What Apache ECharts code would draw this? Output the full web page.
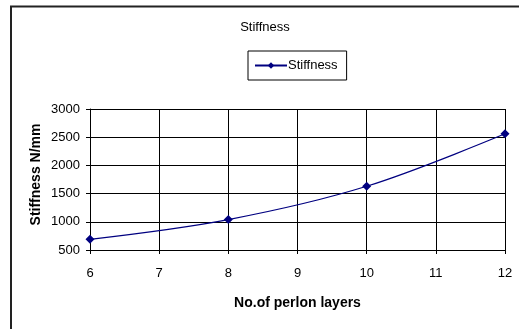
<!DOCTYPE html>
<html><head><meta charset="utf-8">
<script src="https://cdn.jsdelivr.net/npm/echarts@6/dist/echarts.min.js"></script>
<style>html,body{margin:0;padding:0;background:#fff}#c{width:519px;height:329px}</style>
</head><body><div id="c"></div>
<script>
const layers = [6, 8, 10, 12];
const stiffness = [690, 1040, 1630, 2560];
const xTicks = [6, 7, 8, 9, 10, 11, 12];
const yTicks = [500, 1000, 1500, 2000, 2500, 3000];
const seriesName = 'Stiffness';
const titleText = 'Stiffness';
const xTitle = 'No.of perlon layers';
const yTitle = 'Stiffness N/mm';

const chart = echarts.init(document.getElementById('c'), null, {renderer: 'canvas'});
const font = 'Liberation Sans, Arial, sans-serif';
chart.setOption({
  animation: false,
  backgroundColor: '#fff',
  graphic: [{
    type: 'rect', shape: {x: 11, y: 6.5, width: 540, height: 360},
    style: {fill: 'none', stroke: '#222', lineWidth: 2}, z: -1
  }, {
    type: 'text', x: 36, y: 174.5, rotation: Math.PI / 2,
    style: {text: yTitle, fontFamily: font, fontSize: 14, fontWeight: 'bold', fill: '#000',
      align: 'center', verticalAlign: 'middle'}
  }],
  title: {
    text: titleText, left: 265, top: 21, textAlign: 'center', padding: 0,
    textStyle: {fontFamily: font, fontSize: 13, fontWeight: 'normal', color: '#000'}
  },
  legend: {
    data: [seriesName], left: 248, top: 51, padding: [8, 9, 8, 6],
    borderColor: '#000', borderWidth: 1, itemWidth: 32, itemHeight: 8, itemGap: 4,
    textStyle: {fontFamily: font, fontSize: 13, color: '#000', padding: [0, 0, 0, -4]}
  },
  grid: {left: 90, right: 14, top: 109, bottom: 79, containLabel: false},
  xAxis: {
    type: 'value', min: xTicks[0], max: xTicks[xTicks.length - 1], interval: 1,
    name: xTitle, nameLocation: 'middle', nameGap: 46,
    nameTextStyle: {fontFamily: font, fontSize: 14, fontWeight: 'bold', color: '#000'},
    axisLine: {lineStyle: {color: '#000', width: 1}},
    axisTick: {show: true, length: 4, lineStyle: {color: '#000'}},
    axisLabel: {fontFamily: font, fontSize: 13, color: '#000', margin: 17},
    splitLine: {show: true, lineStyle: {color: '#000', width: 1}}
  },
  yAxis: {
    type: 'value', min: yTicks[0], max: yTicks[yTicks.length - 1], interval: 500,
    axisLine: {show: true, lineStyle: {color: '#000', width: 1}},
    axisTick: {show: true, length: 4, lineStyle: {color: '#000'}},
    axisLabel: {fontFamily: font, fontSize: 13, color: '#000', margin: 10,
      formatter: v => String(v)},
    splitLine: {show: true, lineStyle: {color: '#000', width: 1}}
  },
  series: [{
    name: seriesName, type: 'line', smooth: 0.35,
    data: layers.map((x, i) => [x, stiffness[i]]),
    symbol: 'diamond', symbolSize: 9,
    lineStyle: {color: '#000080', width: 1.2},
    itemStyle: {color: '#000080'}
  }]
});
</script></body></html>
